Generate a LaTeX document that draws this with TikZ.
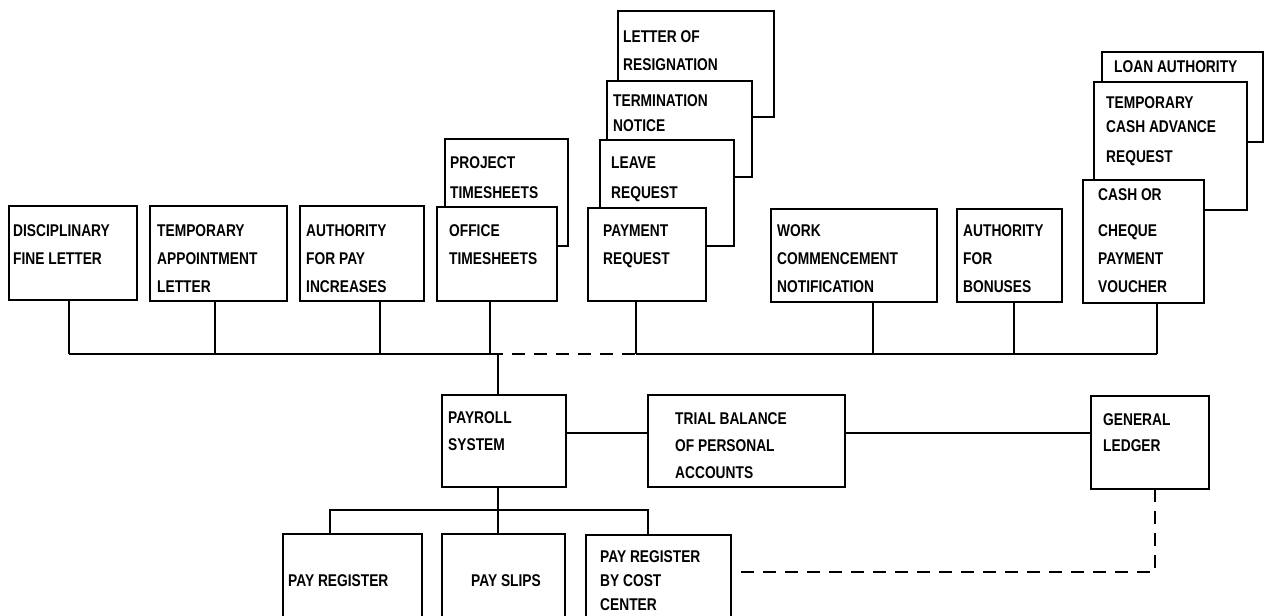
\documentclass[tikz,border=0pt]{standalone}
\usepackage{fontspec}
\setmainfont{Liberation Sans}[FakeStretch=0.81]
\usetikzlibrary{calc}
\newcommand\bx[5]{\node[box, anchor=north west, minimum width={(#4-#2)*1pt}, minimum height={(#5-#3)*1pt}] (#1) at (#2,#3) {};}
\newcommand\tx[5][28]{\node[txt] (#2) at (#3,#4) {\fontsize{17}{#1}\selectfont\begin{tabular}[t]{@{}l@{}}#5\end{tabular}};}
\begin{document}
\begin{tikzpicture}[x=1pt,y=-1pt,
  box/.style={draw, line width=1.8pt, fill=white, inner sep=0pt, outer sep=0pt, rectangle},
  txt/.style={inner sep=0pt, anchor=base west, font=\bfseries},
  conn/.style={line width=1.5pt},
  dconn/.style={line width=1.7pt, dash pattern=on 13pt off 9pt}]
\useasboundingbox[fill=white] (0,0) rectangle (1267,616);
\clip (0,0) rectangle (1267,616);

% stacked documents (back to front)
\bx{res}{618}{11}{774}{117}
\tx{tres}{623}{42}{LETTER OF\\RESIGNATION}
\bx{term}{607}{81}{752}{177}
\tx[25]{tterm}{613}{106}{TERMINATION\\NOTICE}
\bx{leave}{600}{140}{734}{246}
\tx[30]{tleave}{611}{168}{LEAVE\\REQUEST}
\bx{preq}{588}{208}{706}{301}
\tx{tpreq}{603}{236}{PAYMENT\\REQUEST}

\bx{proj}{445}{139}{568}{246}
\tx[30]{tproj}{450}{168}{PROJECT\\TIMESHEETS}
\bx{office}{437}{207}{557}{301}
\tx{toff}{449}{236}{OFFICE\\TIMESHEETS}

\bx{loan}{1102}{52}{1263}{142}
\tx{tloan}{1114}{72}{LOAN AUTHORITY}
\bx{tca}{1094}{82}{1247}{210}
\tx[24]{ttca}{1106}{108}{TEMPORARY\\CASH ADVANCE\\[6pt]REQUEST}
\bx{cash}{1083}{180}{1204}{303}
\tx{tcash}{1098}{200}{CASH OR\\[8pt]CHEQUE\\PAYMENT\\VOUCHER}

% single documents
\bx{disc}{9}{206}{137}{300}
\tx{tdisc}{13}{236}{DISCIPLINARY\\FINE LETTER}
\bx{tapp}{150}{206}{287}{301}
\tx{ttapp}{157}{236}{TEMPORARY\\APPOINTMENT\\LETTER}
\bx{apay}{300}{206}{424}{301}
\tx{tapay}{306}{236}{AUTHORITY\\FOR PAY\\INCREASES}
\bx{work}{771}{209}{937}{302}
\tx{twork}{777}{236}{WORK\\COMMENCEMENT\\NOTIFICATION}
\bx{bon}{957}{209}{1062}{302}
\tx{tbon}{963}{236}{AUTHORITY\\FOR\\BONUSES}

% processing and outputs
\bx{pay}{442}{395}{566}{487}
\tx[27]{tpay}{448}{423}{PAYROLL\\SYSTEM}
\bx{trial}{648}{395}{845}{487}
\tx[27]{ttrial}{675}{424}{TRIAL BALANCE\\OF PERSONAL\\ACCOUNTS}
\bx{gl}{1091}{396}{1209}{489}
\tx[26]{tgl}{1103}{425}{GENERAL\\LEDGER}
\bx{preg}{283}{534}{422}{640}
\tx{tpreg}{288}{586}{PAY REGISTER}
\bx{slips}{442}{534}{565}{640}
\tx{tslips}{471}{586}{PAY SLIPS}
\bx{cc}{586}{535}{731}{640}
\tx[24]{tcc}{600}{562}{PAY REGISTER\\BY COST\\CENTER}

% input bus
\coordinate (busy) at (0,354);
\path ($(disc.south west)+(60,0)$) coordinate (d1)
      ($(tapp.south west)+(65,0)$) coordinate (d2)
      ($(apay.south west)+(80,0)$) coordinate (d3)
      ($(office.south west)+(53,0)$) coordinate (d4)
      ($(preq.south west)+(48,0)$) coordinate (d5)
      ($(work.south west)+(102,0)$) coordinate (d6)
      ($(bon.south west)+(57,0)$) coordinate (d7)
      ($(cash.south west)+(74,0)$) coordinate (d8);
\foreach \d in {d1,d2,d3,d4,d5,d6,d7,d8} \draw[conn] (\d) -- (\d |- busy);
\draw[conn] (d1 |- busy) -- (d4 |- busy);
\draw[dconn] (d4 |- busy) -- (d5 |- busy);
\draw[conn] (d5 |- busy) -- (d8 |- busy);
\draw[conn] ($(pay.north west)+(56,0)$) coordinate (pin) -- (pin |- busy);

% payroll to trial balance to ledger
\draw[conn] ($(pay.east)+(0,-8)$) coordinate (pt) -- (pt -| trial.west);
\draw[conn] (pt -| trial.east) -- (pt -| gl.west);

% outputs
\coordinate (lowy) at (0,510);
\path ($(pay.south west)+(56,0)$) coordinate (pout)
      ($(preg.north west)+(47,0)$) coordinate (e1)
      ($(slips.north west)+(56,0)$) coordinate (e2)
      ($(cc.north west)+(62,0)$) coordinate (e3);
\draw[conn] (pout) -- (pout |- lowy);
\draw[conn] (e1) -- (e1 |- lowy) -- (e3 |- lowy) -- (e3);
\draw[conn] (e2) -- (e2 |- lowy);

% ledger to cost-centre register
\coordinate (dashy) at (0,572);
\draw[dconn] ($(gl.south west)+(64,0)$) coordinate (g1) -- (g1 |- dashy) -- (cc.east |- dashy);
\end{tikzpicture}
\end{document}
